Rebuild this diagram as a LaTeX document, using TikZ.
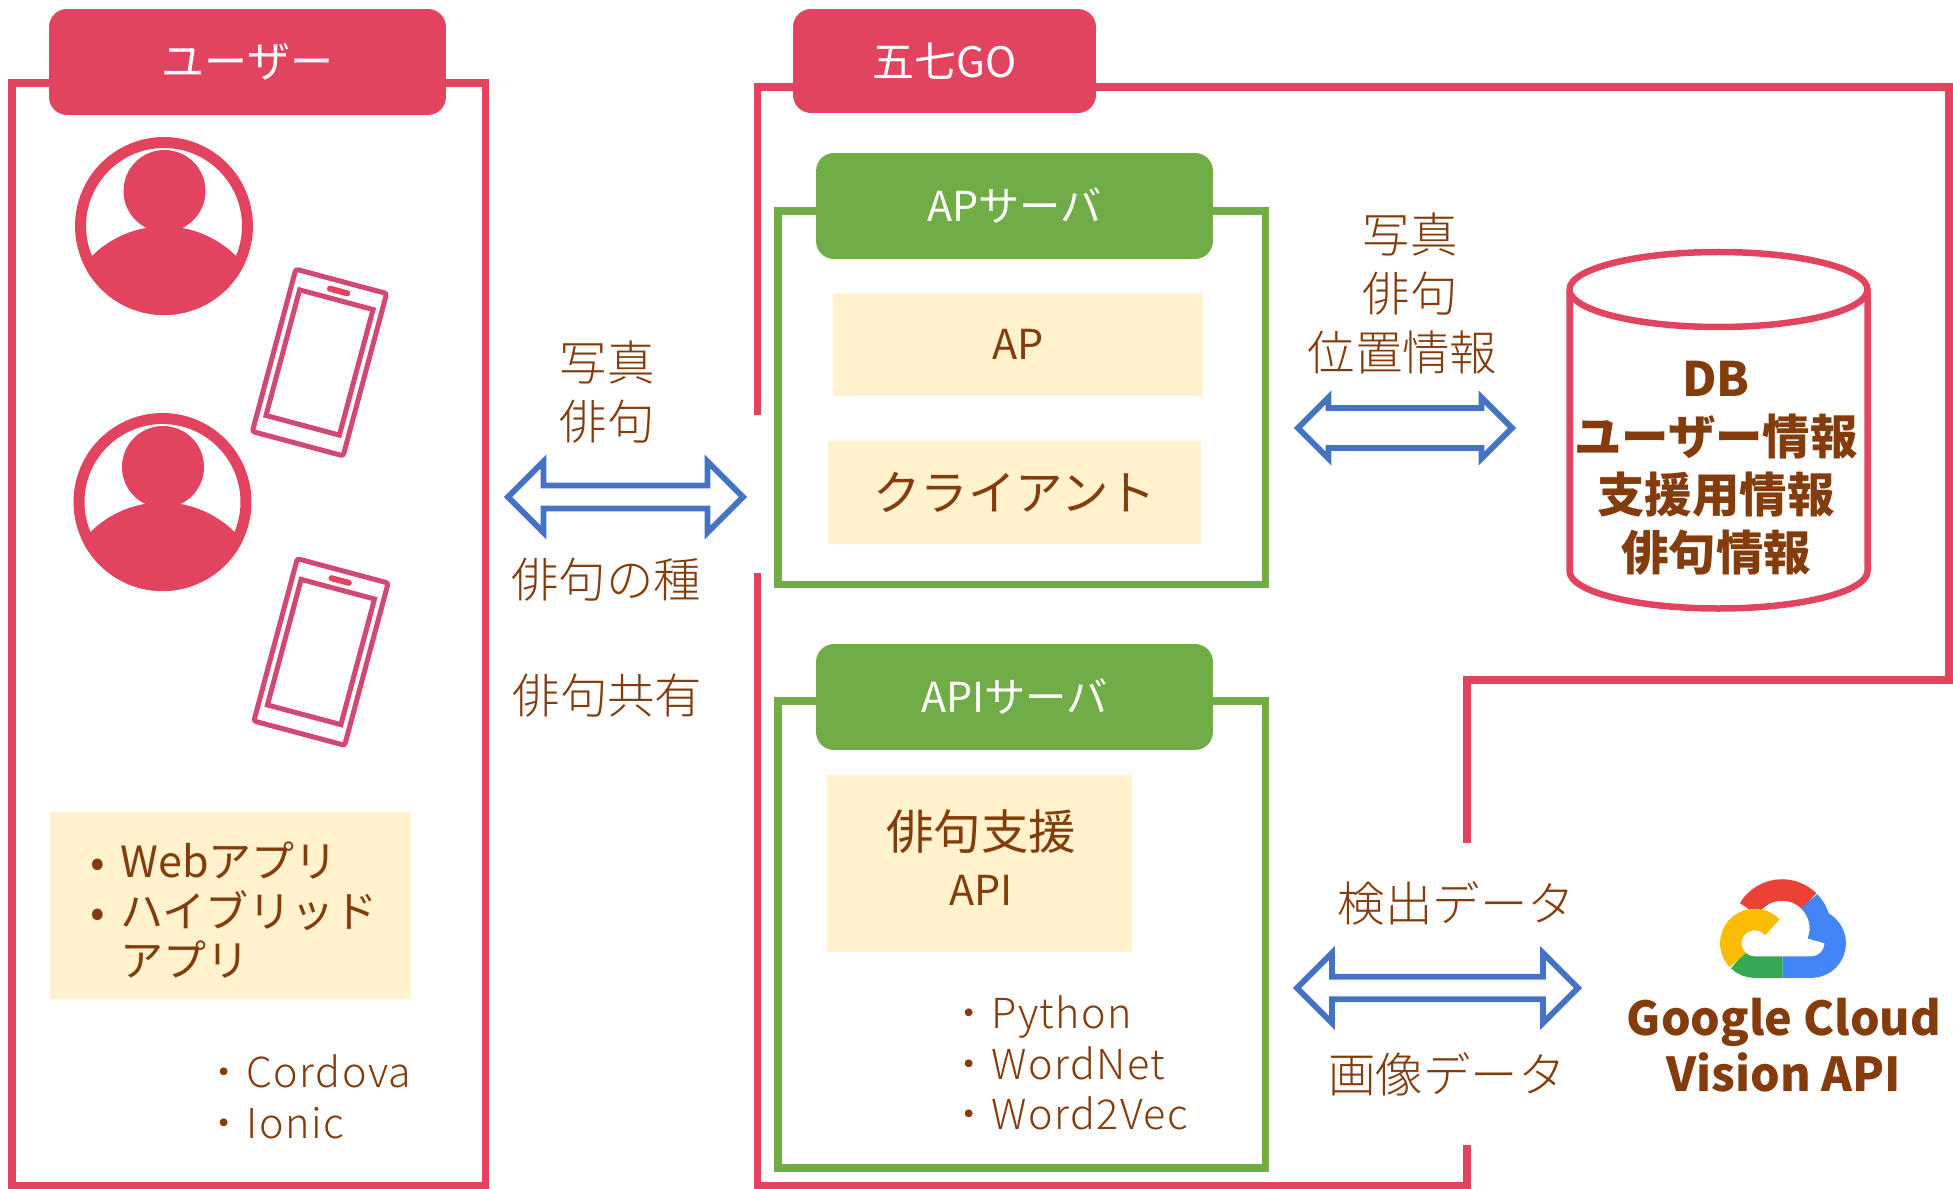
\documentclass[tikz,border=0pt]{standalone}
\usepackage{fontspec}
\setmainfont{Noto Sans CJK JP}
\newfontfamily\lightfont{Noto Sans CJK JP Light}
\newfontfamily\codefont[LetterSpace=3.5]{Noto Sans CJK JP Light}
\usetikzlibrary{shapes.arrows}
\definecolor{pinkc}{HTML}{E2435F}
\definecolor{greenc}{HTML}{70AD47}
\definecolor{creamc}{HTML}{FFF2CC}
\definecolor{brownc}{HTML}{843C0C}
\definecolor{bluec}{HTML}{4472C4}
\definecolor{purplec}{HTML}{B5509F}
\tikzset{
	framebox/.style = {shape=rectangle, inner sep=0pt, outer sep=0pt},
	pinkhead/.style = {framebox, fill=pinkc, rounded corners=0.36cm, text=white},
	greenhead/.style = {framebox, fill=greenc, rounded corners=0.36cm, text=white, font=\fontsize{23.5}{28}\selectfont},
	greenbox/.style = {framebox, draw=greenc, line width=0.155cm},
	creambox/.style = {framebox, fill=creamc, text=brownc, align=center},
	pinkline/.style = {draw=pinkc, line width=0.154cm},
	lab/.style = {text=brownc, font=\lightfont\fontsize{27}{33.5}\selectfont, inner sep=0pt},
	codelab/.style = {text=brownc, font=\codefont\fontsize{23.5}{28.8}\selectfont, inner sep=0pt, align=left, anchor=west},
	biarrow/.style = {shape=double arrow, draw=bluec, fill=white, line width=0.115cm, inner sep=0pt, outer sep=0pt,
		minimum width=1.42cm, double arrow head extend=0.12cm},
	phoneline/.style = {draw=purplec, line width=0.03cm, preaction={draw=pinkc, line width=0.1cm}},
}
\begin{document}
\begin{tikzpicture}[x=0.02cm,y=-0.02cm]
	\useasboundingbox (0,0) rectangle (1953,1189);

	% left frame
	\node[framebox, pinkline, minimum width=9.47cm, minimum height=22.06cm] (userframe) at (248.75,634.5) {};
	\node[pinkhead, minimum width=7.94cm, minimum height=2.12cm, font=\fontsize{24.5}{28}\selectfont] (userhead) at (247.5,62) {ユーザー};

	% right frame
	\draw[pinkline] (757.5,415) -- (757.5,87) -- (1949,87) -- (1949,680) -- (1467,680) -- (1467,843);
	\draw[pinkline] (1467,1145) -- (1467,1186) -- (757.5,1186) -- (757.5,573);
	\node[pinkhead, minimum width=6.06cm, minimum height=2.08cm, font=\fontsize{23.9}{28}\selectfont] (gohead) at (944.5,61) {五七GO};

	% persons
	\foreach \name/\cx/\cy in {one/164/226, two/162.5/502}{
		\begin{scope}
			\clip (\cx,\cy) circle (89);
			\fill[pinkc] (\cx,\cy+103) circle (102.6);
		\end{scope}
		\node[shape=circle, draw=pinkc, line width=0.22cm, inner sep=0pt, outer sep=0pt, minimum size=3.34cm] (person\name) at (\cx,\cy) {};
		\fill[pinkc] (\cx+0.5,\cy-35) circle (41);
	}

	% phones
	\foreach \name/\cx/\cy in {one/319.5/362.5, two/321/652}{
		\begin{scope}[shift={(\cx,\cy)},rotate=-15]
			\path[phoneline, rounded corners=0.05cm] (-47,-84) rectangle (47,84);
			\path[phoneline] (-38,-65) rectangle (38,65);
			\draw[pinkc, line width=0.12cm, line cap=round] (-9,-74) -- (9,-74);
		\end{scope}
	}

	\node[creambox, minimum width=7.22cm, minimum height=3.74cm] (webbox) at (230.5,905.5) {};
	\node[lab, align=left, anchor=west, font=\fontsize{24.5}{28.4}\selectfont] (webtext) at (90,910) {\makebox[0.7em][l]{•}Webアプリ\\\makebox[0.7em][l]{•}ハイブリッド\\\hspace*{0.7em}アプリ};
	\node[codelab] (cordova) at (203.5,1097) {・Cordova\\・Ionic};

	% middle arrow
	\node[biarrow, minimum height=4.7cm] (arrowuser) at (625.5,497) {};
	\node[lab, align=center] (sendlab) at (607,392) {写真\\俳句};
	\node[lab] (seedlab) at (606,580) {俳句の種};
	\node[lab] (sharelab) at (607.5,696) {俳句共有};

	% AP server
	\node[greenbox, minimum width=9.75cm, minimum height=7.47cm] (apframe) at (1021.75,397.75) {};
	\node[greenhead, minimum width=7.94cm, minimum height=2.12cm] (aphead) at (1014.5,206) {APサーバ};
	\node[creambox, minimum width=7.42cm, minimum height=2.06cm, font=\fontsize{23.5}{26}\selectfont] (apbox) at (1018,344.5) {AP};
	\node[creambox, minimum width=7.46cm, minimum height=2.06cm, font=\fontsize{27}{32}\selectfont] (clientbox) at (1014.5,492.5) {クライアント};

	% API server
	\node[greenbox, minimum width=9.75cm, minimum height=9.35cm] (apiframe) at (1021.75,934.4) {};
	\node[greenhead, minimum width=7.94cm, minimum height=2.12cm] (apihead) at (1014.5,697) {APIサーバ};
	\node[creambox, minimum width=6.1cm, minimum height=3.54cm] (haikubox) at (979.5,863.5) {};
	\node[creambox, fill=none] (haikutext) at (981,857.5) {{\fontsize{27}{33}\selectfont 俳句支援}\\[11pt]{\fontsize{23.5}{33}\selectfont API}};
	\node[codelab] (libs) at (948.5,1063) {・Python\\・WordNet\\・Word2Vec};

	% DB
	\node[biarrow, minimum height=4.28cm, minimum width=1.22cm, double arrow head extend=0.03cm] (arrowdb) at (1405,428) {};
	\node[lab, align=center] (dblab) at (1410,264.5) {写真\\俳句};
	\node[lab] (dblab2) at (1402.5,352) {位置情報};
	\draw[draw=pinkc, line width=0.13cm] (1569.5,289.5) arc (180:-180:149 and 37.5);
	\draw[draw=pinkc, line width=0.13cm] (1569.5,289.5) -- (1569.5,571) arc (180:0:149 and 37.5) -- (1867.5,289.5);
	\node[align=center, text=brownc, inner sep=0pt, font=\bfseries\fontsize{27}{33}\selectfont] (dbtext) at (1716,468.5) {DB\\ユーザー情報\\支援用情報\\俳句情報};

	% vision
	\node[biarrow, minimum height=5.62cm, minimum width=1.4cm] (arrowvision) at (1437.5,988) {};
	\node[lab] (detectlab) at (1456.5,903) {検出データ};
	\node[lab] (imagelab) at (1447,1074) {画像データ};
	\begin{scope}[shift={(1782,928.3)},scale=1/3,yscale=-1,line width=0.43cm]
		\draw[color={rgb,255:red,234;green,67;blue,53}] (150:115) arc (150:45:115);
		\draw[color={rgb,255:red,66;green,133;blue,244}] (45:115) arc (45:-20:115);
		\draw[color={rgb,255:red,66;green,133;blue,244}] (1,-116.5) -- (88,-116.5) arc (-90:70:71.5);
		\draw[color={rgb,255:red,52;green,168;blue,83}] (-132.5,-95.5) arc (225:270:71.5) -- (1,-116.5);
		\draw[color={rgb,255:red,251;green,188;blue,5}] (-28.9,2.8) arc (42:225:71.5);
	\end{scope}
	\node[align=center, text=brownc, inner sep=0pt, font=\bfseries\fontsize{26.6}{31.5}\selectfont] (visiontext) at (1784,1045) {Google Cloud\\Vision API};
\end{tikzpicture}
\end{document}
